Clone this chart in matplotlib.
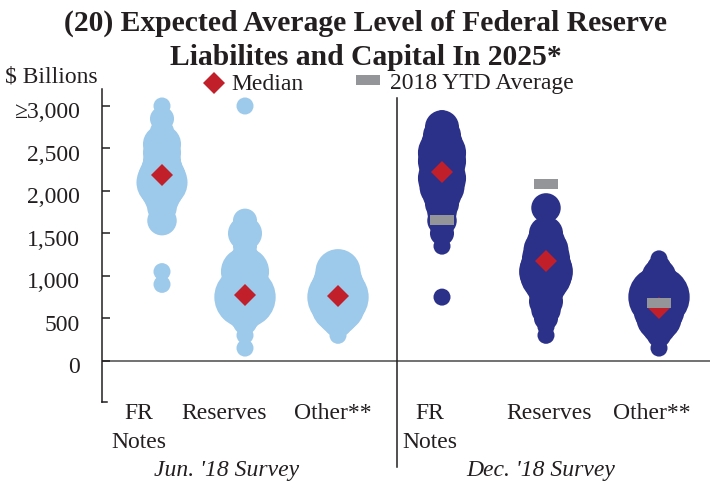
#Expected average level of Fed liabilities and capital in 2025
#bubble chart, bubble area = number of respondents at that value

import matplotlib.pyplot as plt
from matplotlib.lines import Line2D
from matplotlib.transforms import ScaledTranslation

###******* DATA *************************************###
# Jun. '18 survey
jun_fr_vals = [3000, 2850, 2700, 2550, 2450, 2350, 2250, 2150, 2100, 2000, 1900, 1800, 1650, 1050, 900]
jun_fr_cnt = [1, 2, 2, 5, 5, 5, 6, 8, 9, 6, 4, 3, 3, 1, 1]
jun_res_vals = [3000, 1650, 1500, 1350, 1200, 1050, 900, 750, 650, 550, 450, 300, 150]
jun_res_cnt = [1, 2, 4, 2, 3, 8, 6, 13, 6, 4, 2, 1, 1]
jun_oth_vals = [1050, 950, 850, 750, 650, 550, 450, 350, 300]
jun_oth_cnt = [7, 8, 10, 13, 10, 6, 3, 1, 1]
# Dec. '18 survey
dec_fr_vals = [2850, 2750, 2650, 2550, 2450, 2350, 2250, 2150, 2050, 1950, 1850, 1750, 1650, 1500, 1350, 750]
dec_fr_cnt = [1, 4, 5, 6, 8, 8, 7, 8, 7, 5, 4, 3, 3, 2, 1, 1]
dec_res_vals = [1800, 1500, 1400, 1300, 1200, 1100, 1050, 1000, 900, 800, 700, 600, 500, 400, 300]
dec_res_cnt = [3, 4, 5, 7, 8, 9, 10, 9, 6, 4, 4, 3, 2, 1, 1]
dec_oth_vals = [1200, 1100, 1000, 900, 800, 750, 700, 600, 500, 400, 300, 250, 150]
dec_oth_cnt = [1, 2, 4, 6, 9, 13, 10, 9, 7, 4, 2, 1, 1]

categories = ["FR\nNotes", "Reserves", "Other**"]
surveys = ["Jun. '18 Survey", "Dec. '18 Survey"]
medians = [2190, 770, 760, 2220, 1170, 620]
ytd_avg = [1655, 2080, 680]   # 2018 YTD average, shown with Dec. survey only

yticks = [0, 500, 1000, 1500, 2000, 2500, 3000]
ytick_labels = ["0", "500", "1,000", "1,500", "2,000", "2,500", "\u22653,000"]

groups = [(jun_fr_vals, jun_fr_cnt), (jun_res_vals, jun_res_cnt), (jun_oth_vals, jun_oth_cnt),
          (dec_fr_vals, dec_fr_cnt), (dec_res_vals, dec_res_cnt), (dec_oth_vals, dec_oth_cnt)]

###******* LAYOUT / STYLE *********###
xpos = [60, 143, 236, 340, 444, 557]      # column centres (x units = pixels from left spine)
label_x = [37, 122, 231, 328, 447, 550]
survey_x = [125, 439]
divider_x = 295

light_blue = "#9DC9EB"
navy = "#2B3088"
red = "#C1202B"
grey = "#939598"
ink = "#231F20"

plt.rcParams['font.family'] = ['Liberation Serif', 'DejaVu Serif']
plt.rcParams['font.size'] = 17

W, H = 718, 485
fig = plt.figure(figsize=(W / 100, H / 100), dpi=100)
ax = fig.add_axes([102 / W, (H - 403) / H, 608 / W, 313 / H])

#bubbles
for i, (vals, cnt) in enumerate(groups):
    col = light_blue if i < 3 else navy
    ax.scatter([xpos[i]] * len(vals), vals, s=[150 * c for c in cnt],
               color=col, linewidths=0, clip_on=False, zorder=2)

#medians and YTD averages
ax.plot(xpos, medians, ls='none', marker='D', ms=11.7, color=red, mew=0, zorder=3, clip_on=False)
ax.plot(xpos[3:], ytd_avg, ls='none', marker='_', ms=16.6, mew=7.2, color=grey, zorder=4, clip_on=False)

ax.set_xlim(0, 608)
ax.set_ylim(-485, 3200)

#axes cosmetics
for side in ['top', 'right']:
    ax.spines[side].set_visible(False)
ax.spines['left'].set_color(ink)
ax.spines['left'].set_linewidth(1.1)
ax.spines['bottom'].set_color(ink)
ax.spines['bottom'].set_linewidth(1.1)
ax.spines['bottom'].set_bounds(0, 5)
ax.set_xticks([])
ax.set_yticks(yticks)
ax.set_yticklabels(ytick_labels)
ax.tick_params(axis='y', direction='in', length=6, width=1.1, color=ink, pad=16, labelcolor=ink)
shift = ScaledTranslation(0, -0.035, fig.dpi_scale_trans)
for lab in ax.get_yticklabels():
    lab.set_transform(lab.get_transform() + shift)
ax.axhline(0, color="#4a4a4a", lw=1.1, zorder=1)
ax.plot([divider_x, divider_x], [3090, -1250], color=ink, lw=1.1, clip_on=False)

#category and survey labels
for i in range(6):
    name = categories[i % 3]
    if "\n" in name:
        top, bot = name.split("\n")
        ax.text(label_x[i], -612, top, ha='center', va='center', color=ink)
        ax.text(label_x[i], -955, bot, ha='center', va='center', color=ink)
    else:
        ax.text(label_x[i], -612, name, ha='center', va='center', color=ink)
for j in range(2):
    ax.text(survey_x[j], -1285, surveys[j], ha='center', va='center', style='italic', color=ink)

#title, units and legend
fig.text(366 / W, 1 - 10 / H, "(20) Expected Average Level of Federal Reserve\nLiabilites and Capital In 2025*",
         ha='center', va='top', fontsize=21.3, fontweight='bold', linespacing=1.32, color=ink)
fig.text(5 / W, 1 - 77 / H, "$ Billions", ha='left', va='center', color=ink)
fig.add_artist(Line2D([214 / W], [1 - 84 / H], marker='D', ms=11.7, mew=0, color=red,
                      transform=fig.transFigure))
fig.text(231 / W, 1 - 84 / H, "Median", ha='left', va='center', color=ink)
fig.add_artist(Line2D([368 / W], [1 - 81 / H], marker='_', ms=16.6, mew=7.2, color=grey,
                      transform=fig.transFigure))
fig.text(390 / W, 1 - 84 / H, "2018 YTD Average", ha='left', va='center', color=ink)

plt.savefig("out.png", dpi=100)
